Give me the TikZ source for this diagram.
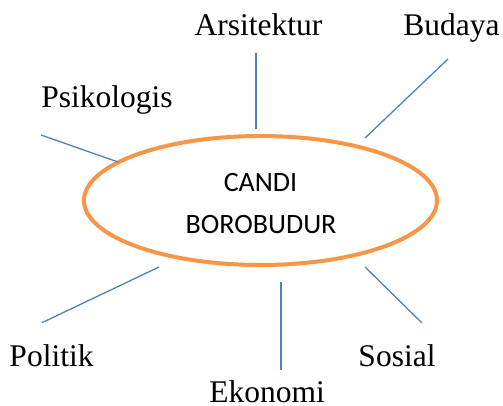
\documentclass[tikz,border=0pt]{standalone}
\usepackage{fontspec}
\setmainfont{Liberation Serif}
\newfontfamily\calibrifont{Carlito}
\usetikzlibrary{shapes.geometric}
\definecolor{orangeline}{HTML}{F79646}
\definecolor{blueline}{HTML}{4F81BD}
\begin{document}
\begin{tikzpicture}[x=1pt,y=1pt,
  lbl/.style={anchor=base, inner sep=0pt, font=\fontsize{31.5}{36}\selectfont},
  ctr/.style={anchor=base, inner sep=0pt, font=\calibrifont\fontsize{28}{34}\selectfont},
  spoke/.style={draw=blueline, line width=1.3pt}]
\useasboundingbox (0,0) rectangle (503,405);
\node[ellipse, draw=orangeline, line width=4pt, minimum width=353pt, minimum height=129pt, inner sep=0pt] (candi) at (260.5,204.5) {};
\node[ctr] (t1) at (260.5,214) {CANDI};
\node[ctr] (t2) at (261,172) {BOROBUDUR};
\node[lbl] (ars) at (258.5,369) {Arsitektur};
\node[lbl] (bud) at (451.5,369) {Budaya};
\node[lbl] (psi) at (107,297) {Psikologis};
\node[lbl] (pol) at (51.5,38.3) {Politik};
\node[lbl] (sos) at (397,38.3) {Sosial};
\node[lbl] (eko) at (267,2.5) {Ekonomi};
\coordinate (a1) at (256,352); \coordinate (a2) at (256,276);
\coordinate (b1) at (448,346); \coordinate (b2) at (365,267);
\coordinate (p1) at (41,270);  \coordinate (p2) at (118,243);
\coordinate (l1) at (42,82.3); \coordinate (l2) at (159,138);
\coordinate (e1) at (281,123); \coordinate (e2) at (281,35);
\coordinate (s1) at (365,138); \coordinate (s2) at (422,82);
\draw[spoke] (a1) -- (a2);
\draw[spoke] (b1) -- (b2);
\draw[spoke] (p1) -- (p2);
\draw[spoke] (l1) -- (l2);
\draw[spoke] (e1) -- (e2);
\draw[spoke] (s1) -- (s2);
\end{tikzpicture}
\end{document}
